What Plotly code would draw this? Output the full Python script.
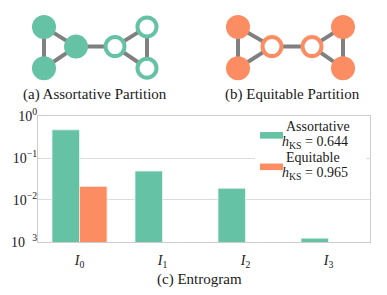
import plotly.graph_objects as go

# ---------------- data ----------------
categories = ["<i>I</i><sub>0</sub>", "<i>I</i><sub>1</sub>", "<i>I</i><sub>2</sub>", "<i>I</i><sub>3</sub>"]
assortative = [0.47, 0.049, 0.019, 0.00123]
equitable = [0.021, None, None, None]
series_names = ["Assortative", "Equitable"]
h_ks = [0.644, 0.965]
ytick_vals = [1, 0.1, 0.01, 0.001]
ytick_text = ["10<sup>0</sup>", "10<sup>−1</sup>", "10<sup>−2</sup>", "10<sup>\u2007 3</sup>"]

# small graph drawings (node layouts)
edges = [(0, 1), (0, 2), (1, 2), (2, 3), (3, 4), (3, 5), (4, 5)]
graph_a_x = [44, 44, 76, 115, 147, 147]
graph_a_y = [18, 62, 39, 39, 18, 62]
graph_a_filled = [True, True, True, False, False, False]
graph_b_x = [238, 238, 272, 312, 343, 343]
graph_b_y = [18, 62, 39, 39, 18, 62]
graph_b_filled = [True, True, False, False, True, True]

captions = ["(a) Assortative Partition", "(b) Equitable Partition", "(c) Entrogram"]

GREEN = "#66c2a5"
ORANGE = "#fc8d62"
EDGE = "#808080"
W, H = 387, 295
FONT = "Liberation Serif, Times New Roman, serif"
TXT = "#1a1a1a"


def px(x):
    return x / W


def py(y):
    return 1 - y / H


fig = go.Figure()

# bars
fig.add_trace(go.Bar(x=categories, y=assortative, name=series_names[0],
                     marker=dict(color=GREEN, line=dict(color="#e8f6f1", width=0.8)),
                     xaxis="x", yaxis="y", showlegend=False))
fig.add_trace(go.Bar(x=categories, y=equitable, name=series_names[1],
                     marker=dict(color=ORANGE, line=dict(color="#fde5db", width=0.8)),
                     xaxis="x", yaxis="y", showlegend=False))


def add_graph(xs, ys, filled, color):
    ex, ey = [], []
    for a, b in edges:
        ex += [xs[a], xs[b], None]
        ey += [ys[a], ys[b], None]
    fig.add_trace(go.Scatter(x=ex, y=ey, mode="lines", line=dict(color=EDGE, width=4),
                             xaxis="x2", yaxis="y2", showlegend=False, hoverinfo="skip"))
    fx = [x for x, f in zip(xs, filled) if f]
    fy = [y for y, f in zip(ys, filled) if f]
    hx = [x for x, f in zip(xs, filled) if not f]
    hy = [y for y, f in zip(ys, filled) if not f]
    fig.add_trace(go.Scatter(x=fx, y=fy, mode="markers",
                             marker=dict(size=24, color=color, line=dict(width=0)),
                             xaxis="x2", yaxis="y2", showlegend=False, hoverinfo="skip"))
    fig.add_trace(go.Scatter(x=hx, y=hy, mode="markers",
                             marker=dict(size=19, color="white", line=dict(width=4, color=color)),
                             xaxis="x2", yaxis="y2", showlegend=False, hoverinfo="skip"))


add_graph(graph_a_x, graph_a_y, graph_a_filled, GREEN)
add_graph(graph_b_x, graph_b_y, graph_b_filled, ORANGE)

shapes = []
annotations = []

# manual legend
shapes.append(dict(type="rect", xref="paper", yref="paper", x0=px(255), x1=px(366),
                   y0=py(186), y1=py(116), fillcolor="white", line=dict(width=0), layer="above"))
legend_colors = [GREEN, ORANGE]
for i, (name, h, c) in enumerate(zip(series_names, h_ks, legend_colors)):
    top = 117 + i * 33.5
    shapes.append(dict(type="rect", xref="paper", yref="paper", x0=px(260), x1=px(283),
                       y0=py(top + 20), y1=py(top + 13), fillcolor=c, line=dict(width=0),
                       layer="above"))
    annotations.append(dict(text=name, xref="paper", yref="paper", x=px(284), y=py(top + 7),
                            xanchor="left", yanchor="middle", showarrow=False,
                            font=dict(family=FONT, size=14, color=TXT)))
    annotations.append(dict(text=f"<i>h</i><sub>KS</sub> = {h:.3f}",
                            xref="paper", yref="paper", x=px(280), y=py(top + 24),
                            xanchor="left", yanchor="middle", showarrow=False,
                            font=dict(family=FONT, size=14, color=TXT)))

# captions
annotations.append(dict(text=captions[0], xref="paper", yref="paper", x=px(95), y=py(90),
                        xanchor="center", yanchor="middle", showarrow=False,
                        font=dict(family=FONT, size=15, color=TXT)))
annotations.append(dict(text=captions[1], xref="paper", yref="paper", x=px(292), y=py(90),
                        xanchor="center", yanchor="middle", showarrow=False,
                        font=dict(family=FONT, size=15, color=TXT)))
annotations.append(dict(text=captions[2], xref="paper", yref="paper", x=px(200), y=py(287),
                        xanchor="center", yanchor="middle", showarrow=False,
                        font=dict(family=FONT, size=15, color=TXT)))

fig.update_layout(
    width=W, height=H,
    margin=dict(l=0, r=0, t=0, b=0),
    paper_bgcolor="white", plot_bgcolor="rgba(0,0,0,0)",
    barmode="group", bargap=0.337, bargroupgap=0,
    font=dict(family=FONT, size=13, color=TXT),
    showlegend=False,
    xaxis=dict(domain=[px(38), px(370)], range=[-0.5, 3.5], showgrid=False, showline=True,
               mirror=True, linecolor="#cccccc", linewidth=1, ticks="", zeroline=False,
               ticklabelstandoff=5,
               tickfont=dict(family=FONT, size=14, color=TXT), anchor="y"),
    yaxis=dict(domain=[py(247), py(113)], type="log", range=[-3, 0], tickvals=ytick_vals,
               ticktext=ytick_text, showgrid=True, gridcolor="#dcdcdc", gridwidth=1,
               showline=True, mirror=True, linecolor="#cccccc", linewidth=1, ticks="",
               ticklabelstandoff=-3,
               zeroline=False, tickfont=dict(family=FONT, size=14, color=TXT), anchor="x"),
    xaxis2=dict(domain=[0, 1], range=[0, W], visible=False, anchor="y2"),
    yaxis2=dict(domain=[0, 1], range=[H, 0], visible=False, anchor="x2"),
    shapes=shapes,
    annotations=annotations,
)

fig.write_html("out.html", config={"displayModeBar": False},
               post_script="document.body.style.margin='0';")
